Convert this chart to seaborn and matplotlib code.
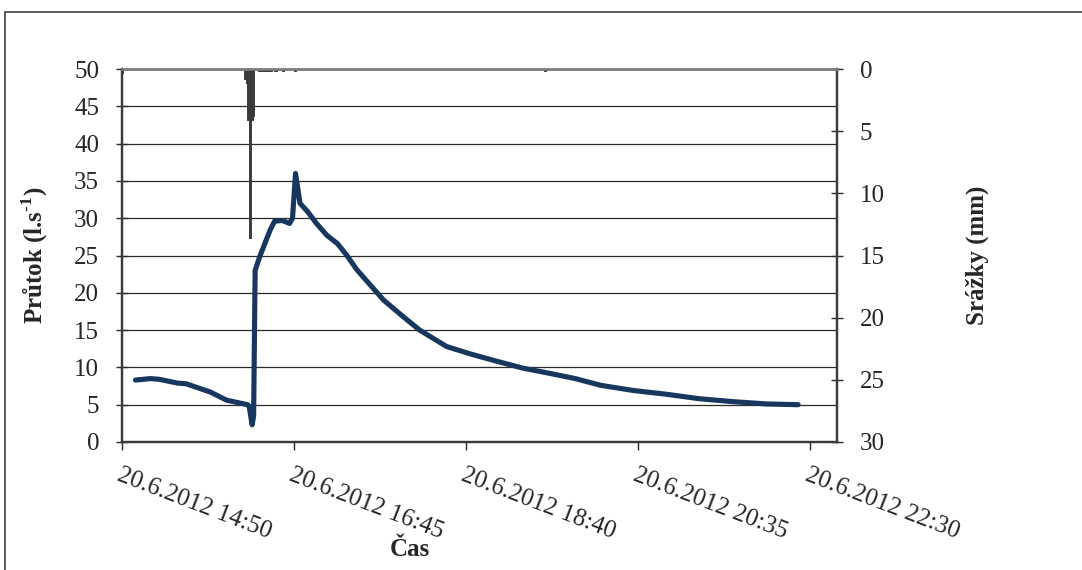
import matplotlib
matplotlib.use("Agg")
import matplotlib.pyplot as plt
import matplotlib.patches as mpatches
import numpy as np
import pandas as pd
import seaborn as sns

DAY = "2012-06-20 "

# Discharge (l/s) sampled along the event
flow_times = ["14:59", "15:09", "15:15", "15:27", "15:33", "15:49", "16:00",
              "16:14", "16:15", "16:17", "16:18", "16:19", "16:22", "16:29",
              "16:32", "16:37", "16:42", "16:44", "16:46", "16:49", "16:54",
              "17:00", "17:07", "17:14", "17:20", "17:27", "17:34", "17:45",
              "17:58", "18:09", "18:27", "18:43", "19:01", "19:18", "19:36",
              "19:53", "20:10", "20:32", "20:54", "21:16", "21:39", "22:01",
              "22:22"]
flow_values = [8.3, 8.5, 8.4, 7.9, 7.8, 6.7, 5.6,
               5.0, 4.8, 2.3, 3.5, 23.0, 24.8, 28.4,
               29.6, 29.7, 29.3, 30.0, 36.0, 32.0, 30.9,
               29.3, 27.7, 26.6, 25.1, 23.1, 21.5, 19.0,
               16.8, 15.0, 12.8, 11.8, 10.8, 9.9, 9.2,
               8.5, 7.6, 6.9, 6.4, 5.8, 5.4, 5.1,
               5.0]

# Rainfall (mm per minute)
rain_times = ["14:50", "16:13", "16:14", "16:15", "16:16", "16:17", "16:18",
              "16:22", "16:23", "16:25", "16:26", "16:27", "16:29", "16:30",
              "16:33", "16:38", "16:46", "19:33"]
rain_values = [0.3, 0.8, 1.1, 4.1, 13.6, 4.1, 3.8,
               0.2, 0.2, 0.2, 0.2, 0.2, 0.2, 0.2,
               0.2, 0.2, 0.2, 0.2]

tick_times = ["14:50", "16:45", "18:40", "20:35", "22:30"]
tick_labels = ["20.6.2012 14:50", "20.6.2012 16:45", "20.6.2012 18:40",
               "20.6.2012 20:35", "20.6.2012 22:30"]

flow = pd.DataFrame({"time": pd.to_datetime([DAY + t for t in flow_times]),
                     "flow": flow_values})
rain = pd.DataFrame({"time": pd.to_datetime([DAY + t for t in rain_times]),
                     "rain": rain_values})

sns.set_theme(style="white")
plt.rcParams["font.family"] = ["Liberation Serif", "DejaVu Serif"]
plt.rcParams["mathtext.fontset"] = "custom"
plt.rcParams["mathtext.rm"] = "Liberation Serif"
plt.rcParams["mathtext.bf"] = "Liberation Serif:bold"

fig = plt.figure(figsize=(10.82, 5.70), dpi=100)
ax = fig.add_axes([122 / 1082, 1 - 442 / 570, 715 / 1082, 373 / 570])

# outer frame of the chart
fig.patches.append(mpatches.Rectangle((5 / 1082, -0.2), 1.2, 1.2 - 12 / 570,
                                      transform=fig.transFigure, fill=False,
                                      edgecolor="#404040", linewidth=1.2))

ax.yaxis.grid(True, color="#2a2a2a", linewidth=0.9)
ax.set_axisbelow(True)

sns.lineplot(data=flow, x="time", y="flow", ax=ax, color="#17375E",
             linewidth=3.7, zorder=3)

ax.set_ylim(0, 50)
ax.set_yticks(np.arange(0, 51, 5))
ax.set_xlim(pd.Timestamp(DAY + "14:50"), pd.Timestamp(DAY + "22:48"))
ax.set_xticks(pd.to_datetime([DAY + t for t in tick_times]))
ax.set_xticklabels(tick_labels)

ax2 = ax.twinx()
ax2.bar(rain["time"], rain["rain"], width=1 / 1440, color="#3a3a3a",
        edgecolor="#3a3a3a", linewidth=1.4, zorder=2)
ax2.set_ylim(30, 0)
ax2.set_yticks(np.arange(0, 31, 5))

for a in (ax, ax2):
    for side in ("left", "right", "bottom"):
        a.spines[side].set_color("#3a3a3a")
        a.spines[side].set_linewidth(1.6)
    a.spines["top"].set_color("#808080")
    a.spines["top"].set_linewidth(1.8)

ax.tick_params(axis="y", direction="inout", length=9, width=1,
               color="#2a2a2a", labelsize=18, pad=12, left=True)
ax2.tick_params(axis="y", direction="inout", length=9, width=1,
                color="#2a2a2a", labelsize=18, pad=12, right=True)
ax.tick_params(axis="x", direction="out", length=6, width=1,
               color="#2a2a2a", labelsize=18, pad=10, bottom=True)
plt.setp(ax.get_xticklabels(), rotation=-21, ha="left",
         rotation_mode="anchor")

ax.set_xlabel("Čas", fontsize=18, fontweight="bold")
ax.xaxis.set_label_coords((410 - 122) / 715, -108 / 373)
ax.set_ylabel("Průtok (l.s$^{\\mathbf{\u20101}}$)", fontsize=18,
              fontweight="bold")
ax.yaxis.set_label_coords(-87 / 715, 0.5)
ax2.set_ylabel("Srážky (mm)", fontsize=18, fontweight="bold")
ax2.yaxis.set_label_coords((977 - 122) / 715, 0.5)
ax.xaxis.label.set_va("center")
ax.yaxis.label.set_va("center")
ax2.yaxis.label.set_va("center")

fig.savefig("out.png", dpi=100)
